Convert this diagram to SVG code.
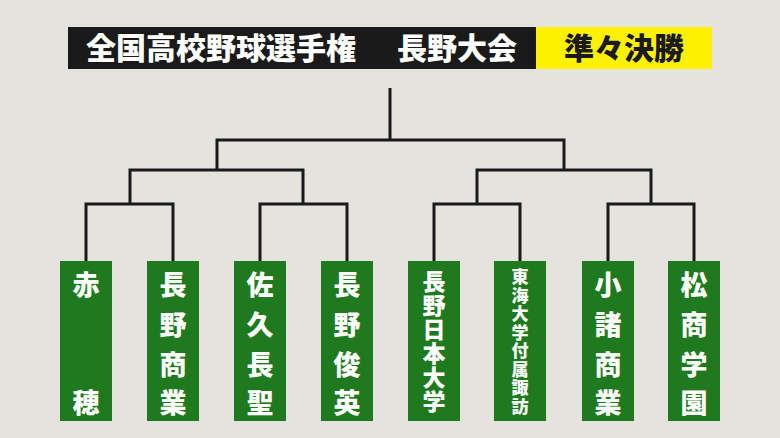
<svg xmlns="http://www.w3.org/2000/svg" width="780" height="438" viewBox="0 0 780 438">
<style>
.bg{fill:#e4e3dd}
.c{fill:none;stroke:#1a1a1a;stroke-width:3}
.box{fill:#1f7a1f}
.t{font-family:"Noto Sans CJK JP",sans-serif;font-weight:900;fill:#fff;text-anchor:middle}
.a{font-size:27px}.b{font-size:23px}.d{font-size:17px}
.h{font-family:"Noto Sans CJK JP",sans-serif;font-weight:900;font-size:30px}
</style>
<rect class="bg" width="780" height="438"/>
<g id="title">
<rect x="68" y="27" width="468" height="42" fill="#1a1a1a"/>
<rect x="536" y="27" width="176" height="42" fill="#fff200"/>
<text class="h" x="86" y="59" fill="#fff">全国高校野球選手権</text>
<text class="h" x="517" y="59" fill="#fff" text-anchor="end">長野大会</text>
<text class="h" x="624" y="59" fill="#1a1a1a" text-anchor="middle">準々決勝</text>
</g>
<g id="connectors" class="c">
<path d="M86 261V204H173V261M130 204V170H303V204M260 261V204H347V261"/>
<path d="M217 170V140H564V170M390 140V88"/>
<path d="M434 261V204H520V261M477 204V170H651V204M608 261V204H694V261"/>
</g>
<g id="n1"><rect class="box" x="60" y="261" width="52" height="160"/><text class="t a"><tspan x="86" y="295">赤</tspan><tspan x="86" y="413">穂</tspan></text></g>
<g id="n2"><rect class="box" x="147" y="261" width="52" height="160"/><text class="t a"><tspan x="173" y="295">長</tspan><tspan x="173" y="335">野</tspan><tspan x="173" y="375">商</tspan><tspan x="173" y="413">業</tspan></text></g>
<g id="n3"><rect class="box" x="234" y="261" width="52" height="160"/><text class="t a"><tspan x="260" y="295">佐</tspan><tspan x="260" y="335">久</tspan><tspan x="260" y="375">長</tspan><tspan x="260" y="413">聖</tspan></text></g>
<g id="n4"><rect class="box" x="321" y="261" width="52" height="160"/><text class="t a"><tspan x="347" y="295">長</tspan><tspan x="347" y="335">野</tspan><tspan x="347" y="375">俊</tspan><tspan x="347" y="413">英</tspan></text></g>
<g id="n5"><rect class="box" x="408" y="261" width="52" height="160"/><text class="t b"><tspan x="434" y="290">長</tspan><tspan x="434" y="314">野</tspan><tspan x="434" y="338">日</tspan><tspan x="434" y="362">本</tspan><tspan x="434" y="386">大</tspan><tspan x="434" y="410">学</tspan></text></g>
<g id="n6"><rect class="box" x="494" y="261" width="52" height="160"/><text class="t d"><tspan x="520" y="283">東</tspan><tspan x="520" y="301.5">海</tspan><tspan x="520" y="320">大</tspan><tspan x="520" y="338.5">学</tspan><tspan x="520" y="357">付</tspan><tspan x="520" y="375.5">属</tspan><tspan x="520" y="394">諏</tspan><tspan x="520" y="412.5">訪</tspan></text></g>
<g id="n7"><rect class="box" x="582" y="261" width="52" height="160"/><text class="t a"><tspan x="608" y="295">小</tspan><tspan x="608" y="335">諸</tspan><tspan x="608" y="375">商</tspan><tspan x="608" y="413">業</tspan></text></g>
<g id="n8"><rect class="box" x="668" y="261" width="52" height="160"/><text class="t a"><tspan x="694" y="295">松</tspan><tspan x="694" y="335">商</tspan><tspan x="694" y="375">学</tspan><tspan x="694" y="413">園</tspan></text></g>
</svg>
